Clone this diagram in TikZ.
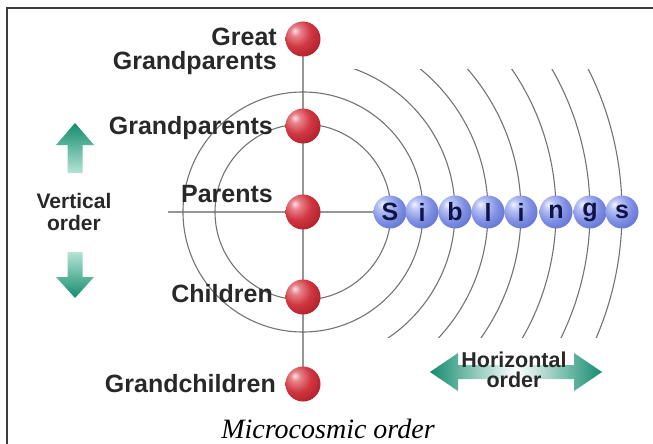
\documentclass[tikz,border=0pt]{standalone}
\usepackage{fontspec}
\setmainfont{Liberation Sans}
\newfontfamily\capfont{Liberation Serif}
\usetikzlibrary{backgrounds}
\definecolor{labelgray}{RGB}{40,40,40}
\definecolor{linegray}{RGB}{150,150,150}
\definecolor{arcgray}{RGB}{115,115,115}
\definecolor{navyc}{RGB}{15,20,70}
\definecolor{tealc}{RGB}{20,140,110}
\definecolor{teallight}{RGB}{180,228,214}
\definecolor{framec}{RGB}{60,60,60}
\definecolor{rA}{RGB}{250,225,228}
\definecolor{rB}{RGB}{232,130,138}
\definecolor{rC}{RGB}{208,55,65}
\definecolor{rD}{RGB}{170,28,38}
\definecolor{rE}{RGB}{135,18,28}
\definecolor{bA}{RGB}{240,244,255}
\definecolor{bB}{RGB}{185,195,245}
\definecolor{bC}{RGB}{130,145,228}
\definecolor{bD}{RGB}{85,100,200}
\definecolor{bE}{RGB}{45,55,140}
\pgfdeclareradialshading{redsphere}{\pgfqpoint{-12bp}{12bp}}{%
  color(0bp)=(rA); color(7bp)=(rB); color(20bp)=(rC); color(38bp)=(rD);
  color(55bp)=(rE); color(80bp)=(rE)}
\pgfdeclareradialshading{bluesphere}{\pgfqpoint{-12bp}{12bp}}{%
  color(0bp)=(bA); color(8bp)=(bB); color(22bp)=(bC); color(42bp)=(bD);
  color(58bp)=(bE); color(80bp)=(bE)}
\begin{document}
\begin{tikzpicture}[x=1pt,y=-1pt,
  lbl/.style={font=\bfseries\fontsize{25}{24}\selectfont, text=labelgray, inner sep=0pt},
  smalllbl/.style={font=\bfseries\fontsize{21}{22}\selectfont, text=labelgray, inner sep=0pt, align=center},
  redball/.style={circle, minimum size=35pt, inner sep=0pt, shade, shading=redsphere},
  sibball/.style={circle, minimum size=33pt, inner sep=0pt, text=navyc, font=\bfseries\fontsize{25}{25}\selectfont},
  wire/.style={draw=linegray, line width=1.8pt},
  arcline/.style={draw=arcgray, line width=1.1pt}]
\useasboundingbox (0,0) rectangle (653,444);
% frame
\draw[framec, line width=2pt] (7,444) -- (7,8) -- (653,8);
% red balls
\node[redball] (gg) at (303,39) {};
\node[redball] (gp) at (303,126) {};
\node[redball] (p)  at (303,212) {};
\node[redball] (c)  at (303,297) {};
\node[redball] (gc) at (303,384) {};
% sibling balls (letters; spheres are shaded on the background layer)
\node[sibball] (s1) at (390,212) {S};
\node[sibball] (s2) at (422,212) {i};
\node[sibball] (s3) at (455,212) {b};
\node[sibball] (s4) at (488,212) {l};
\node[sibball] (s5) at (521,212) {i};
\node[sibball] (s6) at (556,212) {n};
\node[sibball] (s7) at (590,212) {g};
\node[sibball] (s8) at (622,212) {s};
\coordinate (hl) at (168,212);
\begin{scope}[on background layer]
  \draw[wire] (gg.center) -- (gp.center) -- (p.center) -- (c.center) -- (gc.center);
  \draw[wire] (hl) -- (s1.center);
  \draw[arcline] (p.center) circle[radius=88pt];
  \draw[arcline] (p.center) circle[radius=120pt];
  \begin{scope}
    \clip (303,70) rectangle (653,337);
    \foreach \r in {152,185,218,253,287,319}
      \draw[arcline] (p.center) circle[radius=\r pt];
  \end{scope}
  \foreach \n in {s1,s2,s3,s4,s5,s6,s7,s8}
    \shade[shading=bluesphere] (\n.center) circle[radius=16.5pt];
\end{scope}
% labels
\node[lbl, align=right, anchor=east] (lgg) at (277,51) {Great\\Grandparents};
\node[lbl, anchor=base east] (lgp) at (273,134) {Grandparents};
\node[lbl, anchor=base east] (lp)  at (273,202) {Parents};
\node[lbl, anchor=base east] (lc)  at (273,302) {Children};
\node[lbl, anchor=base east] (lgc) at (276,392) {Grandchildren};
% vertical arrows
\shade[top color=tealc, bottom color=teallight]
  (75,123) -- (94,145) -- (82.5,145) -- (82.5,173) -- (67.5,173) -- (67.5,145) -- (56,145) -- cycle;
\shade[top color=teallight, bottom color=tealc]
  (75,298) -- (94,277) -- (82.5,277) -- (82.5,252) -- (67.5,252) -- (67.5,277) -- (56,277) -- cycle;
\node[smalllbl] (lv) at (74,211.5) {Vertical\\order};
% horizontal double arrow
\shade[left color=tealc, right color=tealc, middle color=white]
  (430,372) -- (458,353) -- (458,365) -- (574,365) -- (574,353) -- (602,372)
  -- (574,391) -- (574,379) -- (458,379) -- (458,391) -- cycle;
\node[smalllbl, font=\bfseries\fontsize{21.5}{20}\selectfont] (lh) at (514,369.5) {Horizontal\\order};
% caption
\node[font=\capfont\itshape\fontsize{28}{28}\selectfont, anchor=base, inner sep=0pt] (cap) at (328,438) {Microcosmic order};
\end{tikzpicture}
\end{document}
